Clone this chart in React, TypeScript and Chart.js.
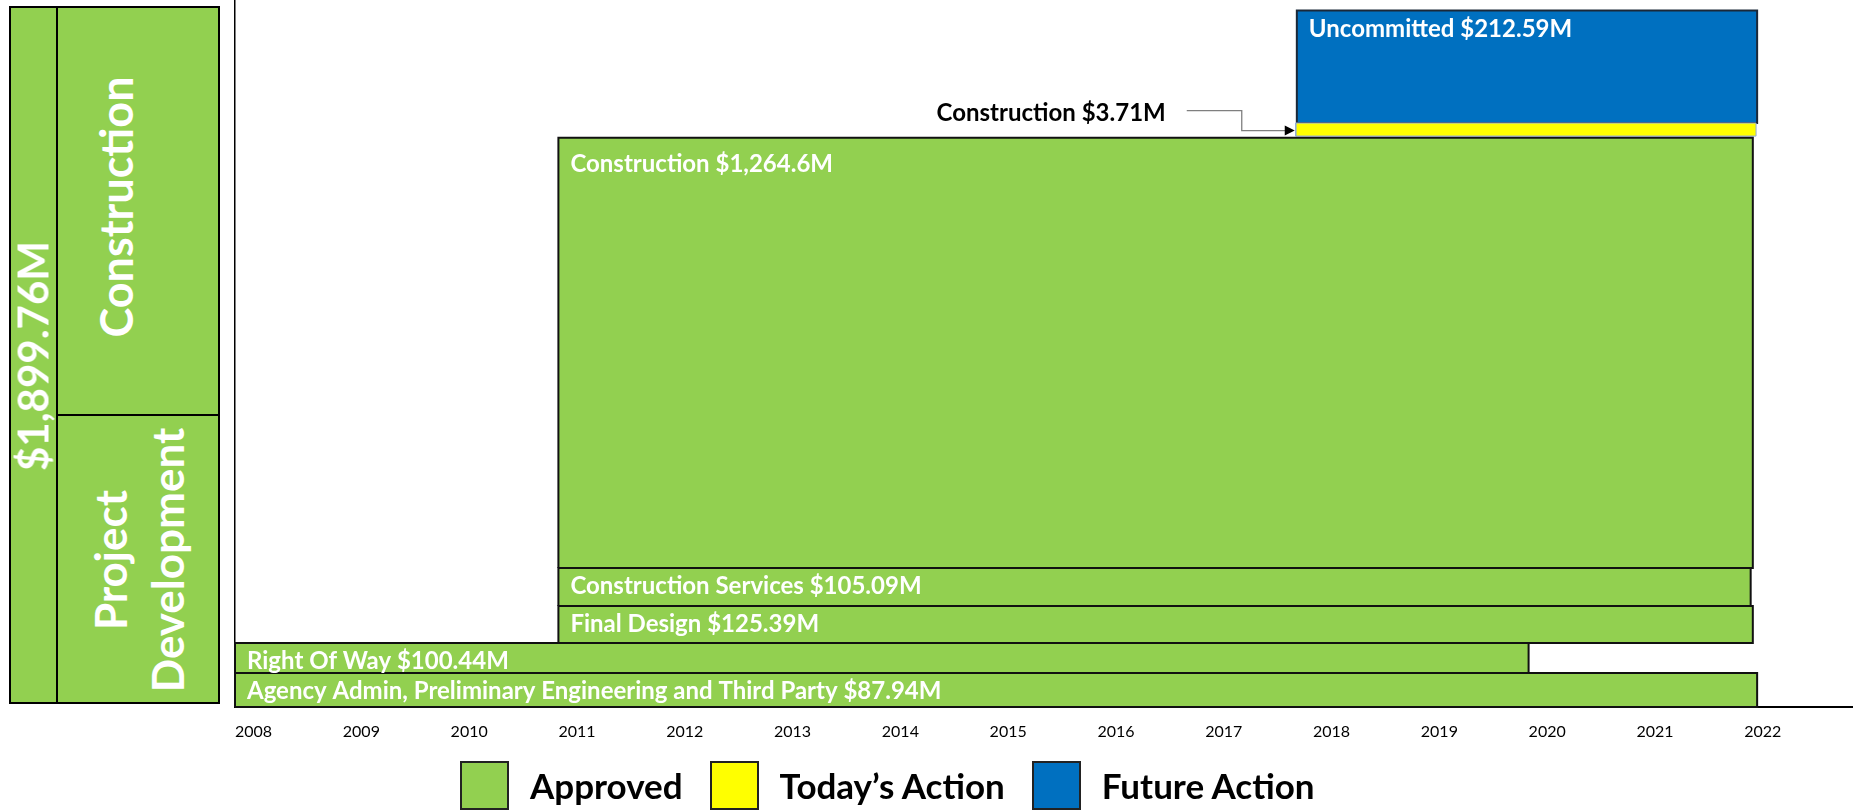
import React, { useEffect, useRef } from "react";
import { Chart, registerables } from "chart.js";

Chart.register(...registerables);

// ---------- data ----------
const categories = [
  "Agency Admin, Preliminary Engineering and Third Party",
  "Right Of Way",
  "Final Design",
  "Construction Services",
  "Construction",
  "Construction",
  "Uncommitted",
];
const amountsM = [87.94, 100.44, 125.39, 105.09, 1264.6, 3.71, 212.59];
const statuses = [
  "Approved",
  "Approved",
  "Approved",
  "Approved",
  "Approved",
  "Today’s Action",
  "Future Action",
];
const startYears = [2008, 2008, 2011, 2011, 2011, 2017.84, 2017.85];
const endYears = [2022.12, 2020.0, 2022.08, 2022.06, 2022.08, 2022.11, 2022.12];
// vertical stacking levels (arbitrary 0-100 display units of the hidden y axis)
const levelBottoms = [0, 4.8, 9.05, 14.3, 19.65, 80.75, 82.6];
const levelTops = [4.8, 9.05, 14.3, 19.65, 80.5, 82.6, 98.5];
const tickYears = [2008, 2009, 2010, 2011, 2012, 2013, 2014, 2015, 2016, 2017, 2018, 2019, 2020, 2021, 2022];
const legendStatuses = ["Approved", "Today’s Action", "Future Action"];
const groupNames = ["Construction", "Project Development"];

// ---------- styles ----------
const STATUS_FILL: Record<string, string> = {
  Approved: "#92D050",
  "Today’s Action": "#FFFF00",
  "Future Action": "#0070C0",
};
const STATUS_BORDER: Record<string, string> = {
  Approved: "#111111",
  "Today’s Action": "#8FAADC",
  "Future Action": "#1B2838",
};
const FONT = "Lato, 'Open Sans', sans-serif";

const fmt = (v: number) =>
  "$" + v.toLocaleString("en-US", { maximumFractionDigits: 2 }) + "M";

const labelPlugin = {
  id: "barLabels",
  afterDatasetsDraw(chart: any) {
    const { ctx } = chart;
    const x = chart.scales.x;
    const y = chart.scales.y;
    ctx.save();
    ctx.font = `bold 24px ${FONT}`;
    categories.forEach((cat, i) => {
      const left = x.getPixelForValue(startYears[i]);
      const top = y.getPixelForValue(levelTops[i]);
      const bottom = y.getPixelForValue(levelBottoms[i]);
      const h = bottom - top;
      const text = `${cat} ${fmt(amountsM[i])}`;
      if (h >= 20) {
        ctx.fillStyle = "#FFFFFF";
        ctx.textAlign = "left";
        ctx.textBaseline = "alphabetic";
        ctx.fillText(text, left + 12, top + (h > 300 ? 34 : 26));
      } else {
        const yc = (top + bottom) / 2;
        ctx.strokeStyle = "#7F7F7F";
        ctx.lineWidth = 1.3;
        ctx.beginPath();
        ctx.moveTo(left - 109, yc - 19);
        ctx.lineTo(left - 54, yc - 19);
        ctx.lineTo(left - 54, yc + 1);
        ctx.lineTo(left - 9, yc + 1);
        ctx.stroke();
        ctx.fillStyle = "#000000";
        ctx.beginPath();
        ctx.moveTo(left - 1, yc + 1);
        ctx.lineTo(left - 11, yc - 4);
        ctx.lineTo(left - 11, yc + 6);
        ctx.closePath();
        ctx.fill();
        ctx.textAlign = "right";
        ctx.textBaseline = "alphabetic";
        ctx.fillText(text, left - 130, yc - 9);
      }
    });
    ctx.restore();
  },
};

export default function App() {
  const canvasRef = useRef<HTMLCanvasElement | null>(null);

  useEffect(() => {
    if (!canvasRef.current) return;
    const datasets = categories.map((c, i) => ({
      label: `${c} ${fmt(amountsM[i])}`,
      data: [
        { x: startYears[i], y: levelBottoms[i] },
        { x: endYears[i], y: levelBottoms[i] },
        { x: endYears[i], y: levelTops[i] },
        { x: startYears[i], y: levelTops[i] },
        { x: startYears[i], y: levelBottoms[i] },
      ],
      showLine: true,
      fill: "shape",
      backgroundColor: STATUS_FILL[statuses[i]],
      borderColor: STATUS_BORDER[statuses[i]],
      borderWidth: statuses[i] === "Today’s Action" ? 1 : 2,
      borderJoinStyle: "miter",
      pointRadius: 0,
      pointHoverRadius: 0,
      tension: 0,
      clip: false,
    }));

    const chart = new Chart(canvasRef.current, {
      type: "scatter",
      data: { datasets: datasets as any },
      options: {
        animation: false,
        responsive: false,
        events: [],
        layout: { padding: { left: 235, right: 3, top: 0, bottom: 0 } },
        plugins: {
          legend: { display: false },
          tooltip: { enabled: false },
        },
        scales: {
          x: {
            type: "linear",
            min: 2008,
            max: 2023,
            afterBuildTicks: (s: any) => {
              s.ticks = tickYears.map((v) => ({ value: v }));
            },
            afterFit: (s: any) => {
              s.height = 104;
            },
            ticks: {
              align: "start",
              padding: 15,
              color: "#000000",
              font: { family: FONT, size: 16 },
              autoSkip: false,
              maxRotation: 0,
              callback: (v: any) => String(v),
            },
            grid: { display: false, drawTicks: false },
            border: { display: true, color: "#000000", width: 2 },
          },
          y: {
            type: "linear",
            min: 0,
            max: 100,
            afterFit: (s: any) => {
              s.width = 0;
            },
            ticks: { display: false },
            grid: { display: false, drawTicks: false },
            border: { display: true, color: "#000000", width: 1.5 },
          },
        },
      } as any,
      plugins: [labelPlugin],
    });
    return () => chart.destroy();
  }, []);

  const total = fmt(amountsM.reduce((a, b) => a + b, 0));
  const green = STATUS_FILL["Approved"];
  const cellBase: React.CSSProperties = {
    position: "absolute",
    background: green,
    border: "2px solid #000",
    boxSizing: "border-box",
  };
  const rotText = (cx: number, cy: number, size: number): React.CSSProperties => ({
    position: "absolute",
    left: cx,
    top: cy,
    transform: "translate(-50%, -50%) rotate(-90deg)",
    whiteSpace: "nowrap",
    color: "#fff",
    fontFamily: FONT,
    fontWeight: 700,
    fontSize: size,
    lineHeight: "57px",
    textAlign: "center",
  });

  return (
    <div style={{ position: "absolute", left: 0, top: 0, width: 1855, height: 811, background: "#fff", overflow: "hidden" }}>
      <canvas ref={canvasRef} width={1855} height={811} style={{ position: "absolute", left: 0, top: 0, display: "block" }} />
      {/* left summary panel */}
      <div style={{ ...cellBase, left: 9, top: 6, width: 49, height: 698 }} />
      <div style={{ ...cellBase, left: 56, top: 6, width: 164, height: 410 }} />
      <div style={{ ...cellBase, left: 56, top: 414, width: 164, height: 290 }} />
      <div style={rotText(33, 356, 42)}>{total}</div>
      <div style={rotText(116, 207, 45)}>{groupNames[0]}</div>
      <div style={rotText(139, 560, 44)}>
        {groupNames[1].split(" ").map((w, i) => (
          <div key={i}>{w}</div>
        ))}
      </div>
      {/* legend */}
      <div style={{ position: "absolute", left: 460, top: 761, height: 49, display: "flex", alignItems: "center" }}>
        {legendStatuses.map((s) => (
          <React.Fragment key={s}>
            <div style={{ width: 49, height: 49, boxSizing: "border-box", border: "2px solid #222", background: STATUS_FILL[s] }} />
            <div style={{ marginLeft: 21, marginRight: 27, fontFamily: FONT, fontWeight: 700, fontSize: 35, color: "#000", lineHeight: 1, whiteSpace: "nowrap" }}>{s}</div>
          </React.Fragment>
        ))}
      </div>
    </div>
  );
}
